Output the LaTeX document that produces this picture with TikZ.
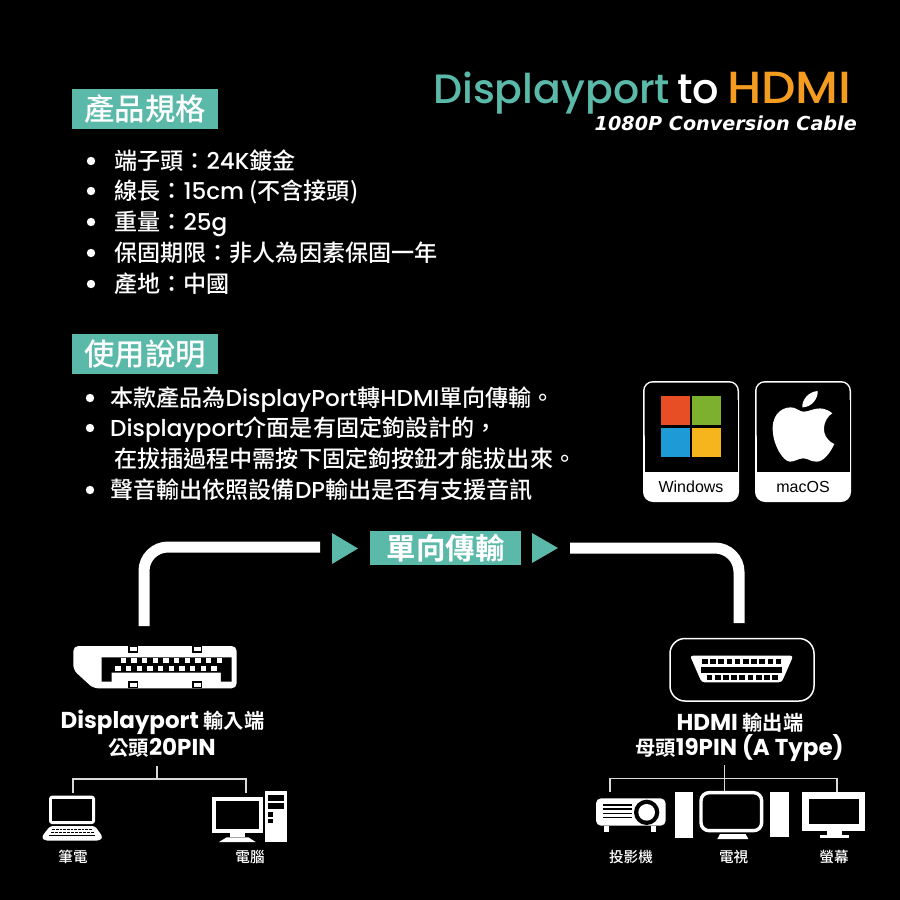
\documentclass[tikz,border=0pt]{standalone}
\usepackage{fontspec}
\setmainfont{Noto Sans CJK TC Medium}[BoldFont=Noto Sans CJK TC Bold]
\newfontfamily\latfont{Poppins Medium}[BoldFont=Poppins Bold]
\newfontfamily\helfont{Liberation Sans}
\newfontfamily\widefont{DejaVu Sans}
\newcommand{\lat}[1]{{\latfont #1}}
\definecolor{teal1}{HTML}{5BB9A9}
\definecolor{orange1}{HTML}{F39C1F}
\tikzset{
  headbox/.style={fill=teal1, text=white, font=\fontsize{30.4}{30}\selectfont, inner sep=0pt, minimum width=146pt, minimum height=40pt},
  listtext/.style={text=white, font=\fontsize{23.1}{24}\selectfont, inner sep=0pt, anchor=base west},
  bigtext/.style={text=white, font=\fontsize{20.3}{22}\selectfont\bfseries, inner sep=0pt},
  smalltext/.style={text=white, font=\fontsize{14.6}{16}\selectfont, inner sep=0pt},
  cardtext/.style={text=black, font=\helfont\fontsize{16}{16}\selectfont, inner sep=0pt},
  titletext/.style={font=\latfont\fontsize{41.5}{42}\selectfont, inner sep=0pt, anchor=base west},
  cable/.style={draw=white, line width=11pt, rounded corners=24pt},
  treeline/.style={draw=white!85!black, line width=1.3pt}
}
\begin{document}
\begin{tikzpicture}[x=1pt, y=-1pt]
  \useasboundingbox (0,0) rectangle (900,900);
  \fill[black] (0,0) rectangle (900,900);

  % title
  \node[titletext, text=teal1, font=\latfont\fontsize{41}{42}\selectfont] (titledp) at (433,103) {Displayport};
  \node[titletext, text=white] (titleto) at (677,103) {to};
  \node[titletext, text=orange1, font=\latfont\fontsize{45}{45}\selectfont] (titlehdmi) at (727,103) {\scalebox{1.08}[1]{HDMI}};
  \node[inner sep=0pt, text=white, anchor=base east, font=\widefont\fontsize{19.2}{20}\selectfont\bfseries\itshape] (subtitle) at (857,130.5) {1080P Conversion Cable};

  % specs
  \node[headbox] (spechead) at (145,108.5) {產品規格};
  \foreach \y in {161,191,222,253,284}
    \fill[white] (91,\y) circle (4.2);
  \node[listtext] (spec1) at (114,169.5) {端子頭：\lat{24K}鍍金};
  \node[listtext] (spec2) at (114,199.5) {線長：\lat{15cm} (不含接頭)};
  \node[listtext] (spec3) at (114,230.5) {重量：\lat{25g}};
  \node[listtext] (spec4) at (114,261.5) {保固期限：非人為因素保固一年};
  \node[listtext] (spec5) at (114,292.5) {產地：中國};

  % usage
  \node[headbox] (usehead) at (145,354) {使用說明};
  \foreach \y in {398,428,490}
    \fill[white] (90,\y) circle (4.2);
  \node[listtext] (use1) at (110,406.5) {本款產品為\lat{DisplayPort}轉\lat{HDMI}單向傳輸。};
  \node[listtext] (use2) at (110,436.5) {\lat{Displayport}介面是有固定鉤設計的，};
  \node[listtext] (use3) at (114,467.5) {在拔插過程中需按下固定鉤按鈕才能拔出來。};
  \node[listtext] (use4) at (110,498.5) {聲音輸出依照設備\lat{DP}輸出是否有支援音訊};

  % os cards
  \foreach \x/\name in {643/Windows,755/macOS} {
    \fill[white, rounded corners=10pt] (\x,381) rectangle ++(96,121);
    \fill[black, rounded corners=8.5pt] (\x+1.5,382.5) rectangle ++(93,60);
    \fill[black] (\x+1.5,400) rectangle ++(93,71.5);
    \node[cardtext] (card\name) at (\x+48,487) {\name};
  }
  \fill[fill={rgb,255:red,232;green,78;blue,38}] (661,396) rectangle (689.5,425);
  \fill[fill={rgb,255:red,124;green,176;blue,46}] (692,396) rectangle (721,425);
  \fill[fill={rgb,255:red,30;green,155;blue,215}] (661,427.5) rectangle (689.5,456.5);
  \fill[fill={rgb,255:red,247;green,181;blue,29}] (692,427.5) rectangle (721,456.5);
  \begin{scope}[shift={(620,370)}, scale=1/3]
    \fill[white] (550,125) .. controls (575,125) and (600,100) .. (637,130)
      .. controls (610,145) and (595,200) .. (643,222)
      .. controls (630,250) and (610,275) .. (590,275)
      .. controls (570,275) and (565,265) .. (550,265)
      .. controls (535,265) and (525,275) .. (510,275)
      .. controls (490,275) and (458,225) .. (458,175)
      .. controls (458,125) and (495,108) .. (520,113)
      .. controls (530,115) and (540,125) .. (550,125) -- cycle;
    \fill[white] (547,112) .. controls (545,90) and (565,65) .. (593,63)
      .. controls (595,85) and (575,112) .. (547,112) -- cycle;
  \end{scope}

  % cable
  \coordinate (dpplug) at (144,626);
  \coordinate (leftend) at (320,547);
  \coordinate (hdmiplug) at (739,623);
  \coordinate (rightend) at (570,548);
  \draw[cable] (dpplug) |- (leftend);
  \draw[cable] (rightend) -| (hdmiplug);
  \fill[teal1] (332,533) -- (358,548.5) -- (332,564) -- cycle;
  \node[fill=teal1, text=white, font=\fontsize{29.5}{30}\selectfont\bfseries, inner sep=0pt, minimum width=151pt, minimum height=34pt] (oneway) at (445.5,548) {單向傳輸};
  \fill[teal1] (532,533) -- (558,548) -- (532,563) -- cycle;

  % displayport plug
  \begin{scope}[shift={(40,620)}, scale=1/3]
    \fill[white, rounded corners=5pt] (100,78) -- (590,78) -- (590,205) -- (160,205) -- (100,150) -- cycle;
    \foreach \x in {265,457} {
      \fill[black] (\x,78) rectangle ++(30,20);
      \fill[white] (\x+4,82) rectangle ++(22,12);
      \fill[black] (\x,183) rectangle ++(30,22);
      \fill[white] (\x+4,189) rectangle ++(22,12);
    }
    \fill[black] (185,112) -- (575,112) -- (575,185) -- (543,185) -- (543,158) -- (215,158) -- (215,185) -- (185,185) -- cycle;
    \foreach \i in {0,...,9} {
      \fill[white] (242+\i*32,115) rectangle ++(16,15);
      \fill[white] (226+\i*32,138) rectangle ++(16,15);
    }
  \end{scope}

  % hdmi socket
  \draw[white, line width=1.5pt, rounded corners=15pt] (670,638.5) rectangle (814,701);
  \begin{scope}[shift={(680,645)}, scale=1/3]
    \fill[white, rounded corners=3pt] (30,32) -- (340,32) -- (305,112) -- (65,112) -- cycle;
    \foreach \i in {0,...,9}
      \fill[black] (66+\i*24.6,42) rectangle ++(17,15);
    \fill[black] (62,67) rectangle (307,83);
    \foreach \i in {0,...,8}
      \fill[black] (80+\i*24.6,90) rectangle ++(17,15);
  \end{scope}

  % labels
  \node[bigtext] (dplabel) at (162.5,722) {\lat{\bfseries\fontsize{23}{22}\selectfont Displayport} 輸入端};
  \node[bigtext] (dppin) at (162,748) {公頭\lat{\bfseries\fontsize{23}{22}\selectfont 20PIN}};
  \node[bigtext] (hdmilabel) at (740,722.5) {\lat{\bfseries\fontsize{23}{22}\selectfont HDMI} 輸出端};
  \node[bigtext] (hdmipin) at (739.5,748) {母頭\lat{\bfseries\fontsize{23}{22}\selectfont 19PIN (A Type)}};

  % trees
  \coordinate (dpstem) at (157,766);
  \coordinate (dpfork) at (157,779);
  \coordinate (laptoptop) at (73,793);
  \coordinate (pctop) at (246,793);
  \draw[treeline] (dpstem) -- (dpfork);
  \draw[treeline] (laptoptop) |- (dpfork) -| (pctop);
  \coordinate (hdmistem) at (724.7,765);
  \coordinate (hdmifork) at (724.7,778.7);
  \coordinate (projtop) at (610,792);
  \coordinate (tvtop) at (724.7,792);
  \coordinate (montop) at (837,792);
  \draw[treeline] (hdmistem) -- (tvtop);
  \draw[treeline] (projtop) |- (hdmifork) -| (montop);

  % laptop and pc
  \begin{scope}[shift={(40,620)}, scale=1/3]
    \fill[white, rounded corners=3pt] (27,527) rectangle (165,612);
    \fill[black] (37,537) rectangle (155,603);
    \fill[white, rounded corners=3pt] (30,618) -- (165,618) -- (189,652) -- (178,662) -- (15,662) -- (4,652) -- cycle;
    \foreach \i in {0,...,10} {
      \fill[black] (37+\i*11,626) rectangle ++(8,5);
      \fill[black] (32+\i*12,635) rectangle ++(9,5);
    }
    \fill[black] (28,644) rectangle (165,649);
    \fill[white] (515,530) rectangle (668,640);
    \fill[black] (527,542) rectangle (656,628);
    \fill[white] (570,640) rectangle (615,652);
    \fill[white] (537,666) -- (560,652) -- (625,652) -- (647,666) -- cycle;
    \fill[white] (675,513) rectangle (740,667);
    \fill[black] (683,525) rectangle (732,542);
    \fill[black] (683,549) rectangle (732,566);
    \fill[black] (683,577) rectangle (699,590);
    \fill[black] (683,597) rectangle (699,608);
  \end{scope}

  % projector
  \begin{scope}[shift={(590,785)}, scale=1/3]
    \fill[white, rounded corners=5pt] (18,40) rectangle (227,122);
    \foreach \y in {60,72,85,97}
      \fill[black] (38,\y-2.5) rectangle (125,\y+2.5);
    \fill[black] (170,82) circle (38);
    \fill[white] (170,82) circle (25);
    \fill[white] (42,122) rectangle (58,140);
    \fill[white] (182,122) rectangle (197,140);
    \fill[white] (254,20) rectangle (308,160);
  \end{scope}

  % tv and monitor
  \begin{scope}[shift={(580,620)}, scale=1/3]
    \draw[white, line width=3.4pt, rounded corners=8pt] (363,518) rectangle (545,632);
    \fill[white] (412,657) -- (420,642) -- (497,642) -- (505,657) -- cycle;
    \fill[white] (571,517) rectangle (628,650);
    \fill[white] (667,517) rectangle (856,632);
    \fill[black] (687,537) rectangle (836,612);
    \fill[white] (740,632) rectangle (785,645);
    \fill[white] (720,645) rectangle (806,653);
  \end{scope}

  % device names
  \node[smalltext] (laptopname) at (73,857) {筆電};
  \node[smalltext] (pcname) at (250,857) {電腦};
  \node[smalltext] (projname) at (631,857) {投影機};
  \node[smalltext] (tvname) at (733.7,857) {電視};
  \node[smalltext] (monname) at (834,857) {螢幕};
\end{tikzpicture}
\end{document}
